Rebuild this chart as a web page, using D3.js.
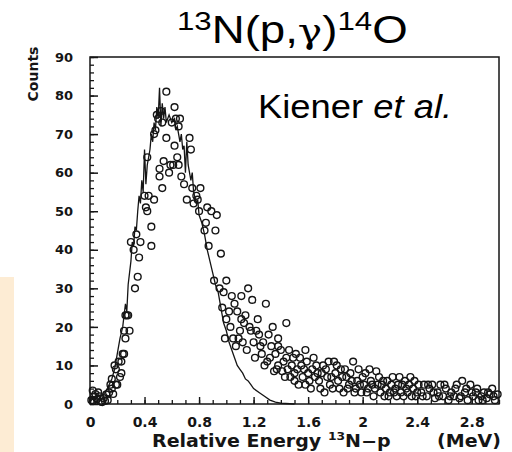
<!DOCTYPE html>
<html>
<head>
<meta charset="utf-8">
<script src="https://cdn.jsdelivr.net/npm/d3@7"></script>
<style>
  html, body { margin: 0; padding: 0; background: #fff; }
  svg { display: block; }
</style>
</head>
<body>
<div id="chart"></div>
<script>
// Measured spectrum: relative energy (MeV) and counts per bin
const energy = [
  0.01,0.02,0.02,0.03,0.04,0.05,0.06,0.07,0.08,0.09,0.10,0.11,0.12,0.13,0.14,0.15,0.16,0.16,0.17,0.18,
  0.19,0.19,0.20,0.21,0.22,0.23,0.23,0.24,0.25,0.25,0.26,0.26,0.27,0.28,0.29,0.30,0.32,0.33,0.34,0.35,
  0.36,0.37,0.40,0.41,0.42,0.42,0.43,0.45,0.45,0.47,0.47,0.48,0.49,0.50,0.51,0.51,0.52,0.53,0.53,0.54,
  0.56,0.56,0.58,0.59,0.60,0.61,0.62,0.62,0.63,0.64,0.65,0.65,0.66,0.67,0.69,0.71,0.73,0.74,0.75,0.76,
  0.78,0.79,0.80,0.81,0.84,0.85,0.86,0.87,0.89,0.91,0.92,0.93,0.95,0.96,0.97,0.98,1.00,1.00,0.99,1.04,
  1.05,1.06,1.07,1.09,1.11,1.11,1.13,1.14,1.16,1.18,1.19,1.22,1.25,1.26,1.29,1.30,1.31,1.33,1.35,1.36,
  1.38,1.38,1.38,1.41,1.44,1.44,1.46,1.48,1.49,1.50,1.50,1.51,1.53,1.55,1.56,1.57,1.58,1.58,1.60,1.62,
  1.65,1.66,1.68,1.70,1.71,1.72,1.74,1.76,1.78,1.79,1.80,1.82,1.84,1.86,1.88,1.90,1.93,1.95,1.96,1.99,
  2.01,2.02,2.04,2.06,2.08,2.10,2.11,2.13,2.15,2.17,2.19,2.21,2.23,2.25,2.27,2.29,2.31,2.33,2.35,2.37,
  2.39,2.41,2.43,2.45,2.47,2.49,2.51,2.53,2.55,2.57,2.59,2.61,2.63,2.65,2.67,2.69,2.71,2.73,2.75,2.77,
  2.79,2.81,2.83,2.85,2.87,2.89,2.91,2.93,2.95,2.97,2.99,
  1.02,1.03,1.08,1.10,1.12,1.15,1.17,1.20,1.21,1.23,1.24,1.27,1.28,1.32,1.34,1.37,1.40,1.42,1.43,1.45,
  1.47,1.52,1.54,1.59,1.61,1.63,1.64,1.67,1.69,1.73,1.75,1.77,1.81,1.83,1.85,1.87,1.89,1.91,1.92,1.94,
  1.97,1.98,2.00,2.03,2.05,2.07,2.09,2.12,2.14,2.16,2.18,2.20,2.22,2.24,2.26,2.28,2.30,2.32,2.34,2.36,
  2.38,2.40,2.44,2.48,2.52,2.56,2.60,2.64,2.68,2.72,2.76,2.80,2.84,2.88,2.92,2.96
];
const counts = [
  1,3.5,0.8,2,2.6,1.2,3,2,0.6,0.5,1.5,0.8,2.5,1,3,5,4,6.5,2.6,10,
  5,9,5,11,7,8,11,13,13,19,17,23,23,23,19,42,40,30,44,33,
  38,42,54,51,50,64,54,41,46,53,70,71,75,74,61,59,76,56,73,63,
  81,69,60,62,73,62,77,67,74,64,72,62,74,59,57,53,69,66,56,52,
  54,53,50,56,45,47,51,41,50,32,45,49,30,39,25,29,32,22,17,28,
  17,26,15,17,28,22,21,23,30,19,27,19,15,13,26,11,18,15,8.5,13,
  17,15,10,8.5,21,12,14,10,12,8,6,13,5,10,7,9,14,5,8,4,
  7,10,6,8,10,3,7,5,4,11,8,6,9,3,7,5,11,4,6,3,
  5,8,4,6,2,8.5,5,3,6,4,2,5,3,2,7,5,6,3,7,4,
  2,5,3,5,2,4,5,1.5,3,5,2,4,1,3,2,5,1.5,6,3,1,
  5,2,3,1,2,3,1.5,2.5,4,1,2.5,
  24,20,24,19,16,14,20,16,12,22,18,16,10,12,20,9,14,11,7,9,
  7,9,12,11,6,9,12,8,4,9,11,7,10,4,7,9,4,8,6,3,
  9,5,7,3,9,5,4,7,5,2,6,3,7,4,5,3,2,4,5,2,
  6,3,2,5,3,2,5,2,4,2,4,3,4,1,3,2
];

// Simulated line shape
const simEnergy = [
  0.00,0.02,0.04,0.06,0.08,0.10,0.12,0.14,0.16,0.18,0.20,0.22,0.24,0.26,0.27,0.28,0.30,0.31,0.32,0.33,
  0.34,0.35,0.36,0.37,0.38,0.39,0.40,0.41,0.42,0.44,0.45,0.46,0.47,0.48,0.49,0.50,0.51,0.52,0.53,0.54,
  0.55,0.56,0.58,0.60,0.62,0.63,0.64,0.66,0.67,0.68,0.69,0.70,0.71,0.72,0.74,0.75,0.76,0.78,0.79,0.80,
  0.82,0.84,0.86,0.88,0.90,0.92,0.94,0.96,0.98,1.00,1.02,1.04,1.06,1.08,1.10,1.12,1.14,1.16,1.18,1.20,
  1.24,1.28,1.32,1.36,1.40,1.50
];
const simCounts = [
  0.5,1.5,0.5,1,2,2.5,3.5,5,6.5,9,13,17,20,26,24,31,37,42,41,46,
  45,50,54,52,58,55,66,57,62,66,70,68,73,71,77,74,82,72,78,74,
  77,73,75,73,74,71,72,68,70,66,67,60,68,62,58,60,55,52,53,49,
  47,44,40,37,34,31,29,25,21,19,16,14,12,10,9,8,6.5,6,5,4,
  3,2,1,0.5,0.2,0
];

const yTickValues = [0,10,20,30,40,50,60,70,80,90];
const xTickValues = [0,0.4,0.8,1.2,1.6,2,2.4,2.8];
const xTickLabels = ["0","0.4","0.8","1.2","1.6","2","2.4","2.8"];

const W = 512, H = 452;
const margin = { left: 90, right: 13, top: 57, bottom: 48 };

const svg = d3.select("#chart").append("svg")
  .attr("width", W).attr("height", H);

// pale strip at lower left
svg.append("rect")
  .attr("x", 0).attr("y", 277).attr("width", 14).attr("height", H - 277)
  .attr("fill", "#fdecd4");

const x = d3.scaleLinear().domain([0, 3.0]).range([margin.left, W - margin.right]);
const y = d3.scaleLinear().domain([0, 90]).range([H - margin.bottom, margin.top]);

const ink = "#151515";
const tickFont = "'DejaVu Sans', sans-serif";

// frame
svg.append("rect")
  .attr("x", x(0)).attr("y", y(90))
  .attr("width", x(3) - x(0)).attr("height", y(0) - y(90))
  .attr("fill", "none").attr("stroke", ink).attr("stroke-width", 1.5);

// left axis: minor ticks every 2 counts, major every 10
const yMinor = d3.range(0, 91, 2);
svg.append("g").attr("transform", `translate(${x(0)},0)`)
  .call(d3.axisLeft(y).tickValues(yMinor).tickSize(-4).tickFormat(""))
  .call(g => g.select(".domain").remove())
  .call(g => g.selectAll("line").attr("stroke", ink).attr("stroke-width", 1.3));

svg.append("g").attr("transform", `translate(${x(0)},0)`)
  .call(d3.axisLeft(y).tickValues(yTickValues).tickSize(-8).tickPadding(17).tickFormat(d3.format("d")))
  .call(g => g.select(".domain").remove())
  .call(g => g.selectAll("line").attr("stroke", ink).attr("stroke-width", 1.5))
  .call(g => g.selectAll("text")
    .attr("fill", ink).attr("font-family", tickFont).attr("font-weight", "bold").attr("font-size", 13));

// bottom axis: minor ticks every 0.1 MeV, labelled ticks every 0.4 MeV
const xMinor = d3.range(0, 30.5, 1).map(d => d / 10);
svg.append("g").attr("transform", `translate(0,${y(0)})`)
  .call(d3.axisBottom(x).tickValues(xMinor).tickSize(-4).tickFormat(""))
  .call(g => g.select(".domain").remove())
  .call(g => g.selectAll("line").attr("stroke", ink).attr("stroke-width", 1.3));

svg.append("g").attr("transform", `translate(0,${y(0)})`)
  .call(d3.axisBottom(x).tickValues(xTickValues).tickSize(-7).tickPadding(13)
    .tickFormat((d, i) => xTickLabels[i]))
  .call(g => g.select(".domain").remove())
  .call(g => g.selectAll("line").attr("stroke", ink).attr("stroke-width", 1.4))
  .call(g => g.selectAll("text")
    .attr("fill", ink).attr("font-family", tickFont).attr("font-weight", "bold").attr("font-size", 14));

// axis titles
svg.append("text")
  .attr("transform", `translate(38,74) rotate(-90)`)
  .attr("text-anchor", "middle")
  .attr("font-family", tickFont).attr("font-weight", "bold").attr("font-size", 14)
  .attr("fill", ink).text("Counts");

const xt = svg.append("text")
  .attr("transform", "translate(152,447) scale(1.12,1)")
  .attr("font-family", tickFont).attr("font-weight", "bold").attr("font-size", 17)
  .attr("fill", ink);
xt.append("tspan").text("Relative Energy ");
xt.append("tspan").attr("font-size", 11).attr("dy", -7).text("13");
xt.append("tspan").attr("dy", 7).text("N\u2212p");

svg.append("text")
  .attr("transform", "translate(501,447) scale(1.12,1)")
  .attr("text-anchor", "end")
  .attr("font-family", tickFont).attr("font-weight", "bold").attr("font-size", 17)
  .attr("fill", ink).text("(MeV)");

// simulated curve
svg.append("path")
  .datum(simEnergy.map((e, i) => [e, simCounts[i]]))
  .attr("fill", "none").attr("stroke", ink).attr("stroke-width", 1.3)
  .attr("d", d3.line().x(d => x(d[0])).y(d => y(d[1])));

// measured points
svg.append("g").selectAll("circle")
  .data(energy.map((e, i) => [e, counts[i]]))
  .join("circle")
  .attr("cx", d => x(d[0])).attr("cy", d => y(d[1]))
  .attr("r", 3.4)
  .attr("fill", "none").attr("stroke", ink).attr("stroke-width", 1.4);

// reaction title
const title = svg.append("text")
  .attr("transform", "translate(177,43) scale(1.2,1)")
  .attr("font-family", "'Liberation Sans', Arial, sans-serif").attr("font-size", 38)
  .attr("fill", "#000");
title.append("tspan").attr("font-size", 26).attr("dy", -13).text("13");
title.append("tspan").attr("dy", 13).text("N(p,");
title.append("tspan").attr("font-family", "'DejaVu Serif', serif").attr("font-size", 34).text("\u03b3");
title.append("tspan").text(")");
title.append("tspan").attr("font-size", 26).attr("dy", -13).text("14");
title.append("tspan").attr("dy", 13).text("O");

// reference label
const ref = svg.append("text")
  .attr("transform", "translate(258,118) scale(1.07,1)")
  .attr("font-family", "'Liberation Sans', Arial, sans-serif").attr("font-size", 34)
  .attr("fill", "#000");
ref.append("tspan").text("Kiener ");
ref.append("tspan").attr("font-style", "italic").text("et al.");
</script>
</body>
</html>
